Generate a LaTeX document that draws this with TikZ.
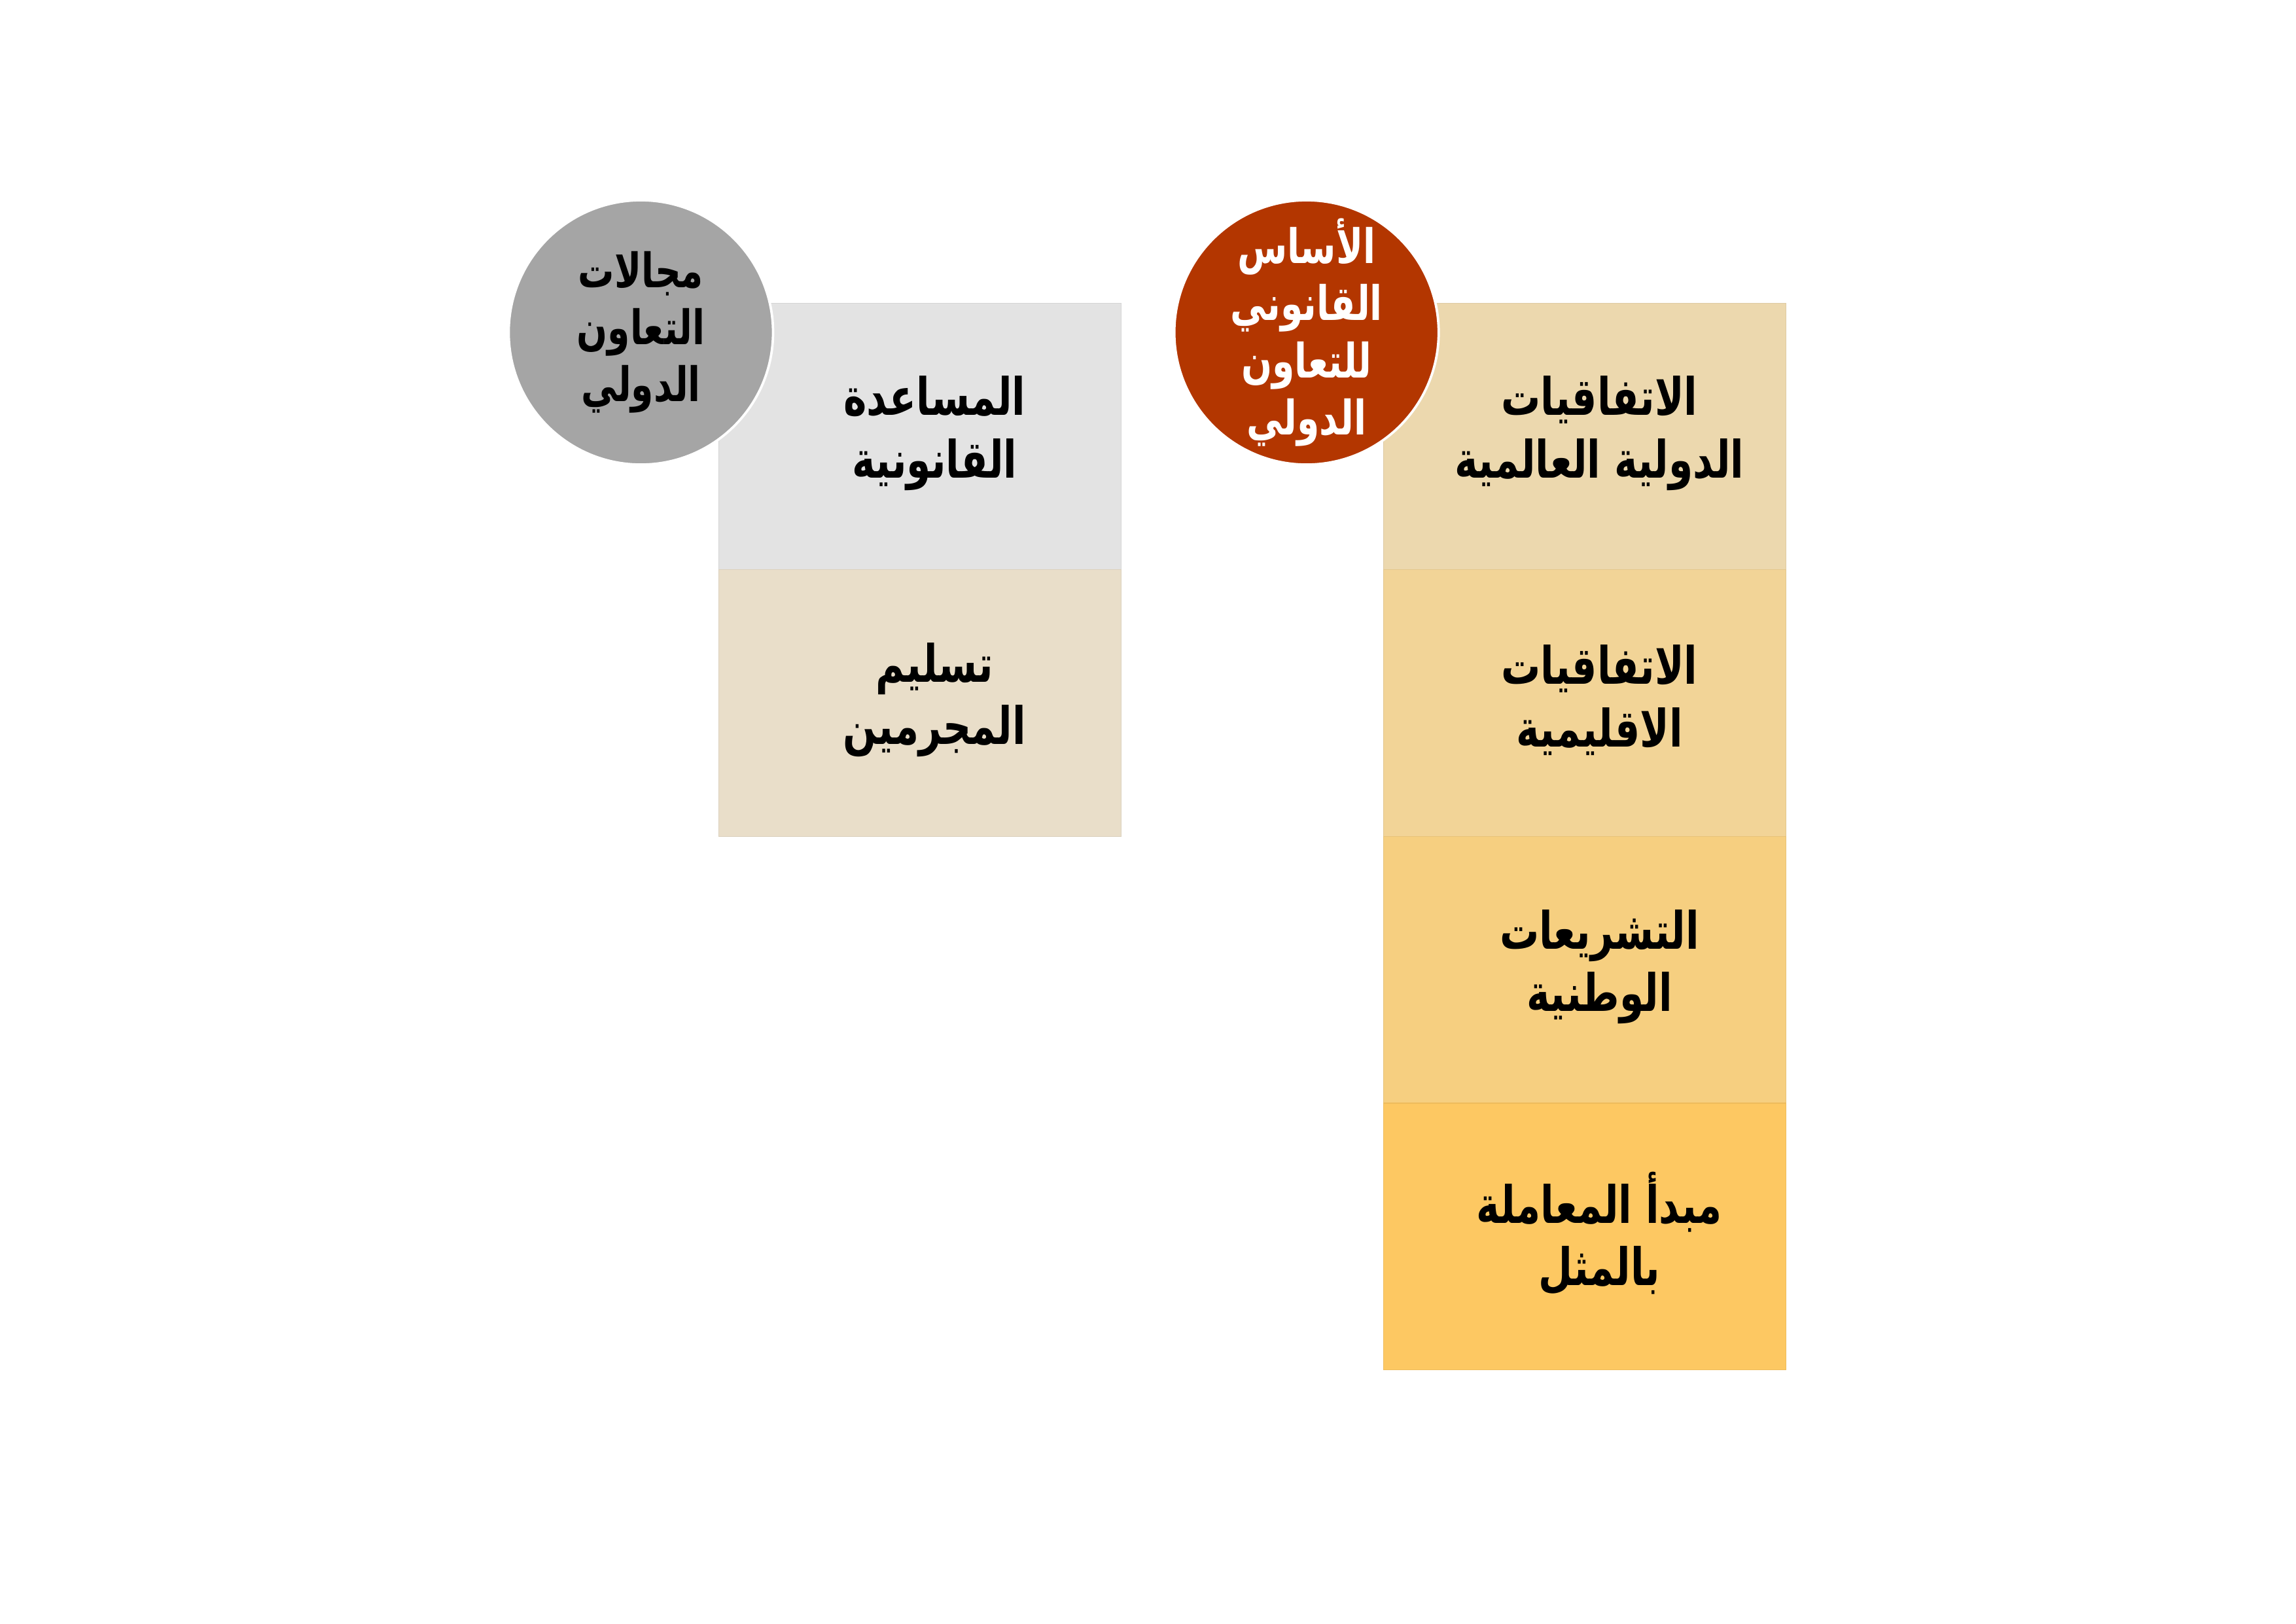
\documentclass[tikz,border=0pt]{standalone}
\usepackage{fontspec}
\usetikzlibrary{positioning}
\TeXXeTstate=1
\newfontfamily\arabicfont[Script=Arabic,FakeStretch=0.76]{DejaVu Sans}
\definecolor{boxgray}{HTML}{E3E3E3}
\definecolor{boxtan}{HTML}{E9DEC9}
\definecolor{boxA}{HTML}{ECD8AE}
\definecolor{boxB}{HTML}{F2D497}
\definecolor{boxC}{HTML}{F6CF80}
\definecolor{boxD}{HTML}{FDC862}
\definecolor{circgray}{HTML}{A5A5A5}
\definecolor{circred}{HTML}{B33600}
\tikzset{
  cell/.style={rectangle,fill=#1,draw=#1!94!black,line width=0.3pt,minimum width=5.2cm,minimum height=3.45cm,inner sep=0pt,outer sep=0pt},
  celltext/.style={align=center,font=\arabicfont\bfseries\fontsize{19}{23}\selectfont},
  badge/.style={circle,fill=#1,draw=white,line width=0.9pt,minimum size=3.42cm,inner sep=-0.6cm,align=center,font=\arabicfont\bfseries\fontsize{17.5}{21}\selectfont},
}
\begin{document}
\begin{tikzpicture}
    \useasboundingbox (0,0) rectangle (29.7,21);
    %% left column
    \node[cell=boxgray,anchor=north west] (L1) at (9.30,17.08) {};
    \node[cell=boxtan,below=0pt of L1] (L2) {};
    %% right column
    \node[cell=boxA,anchor=north west] (R1) at (17.90,17.08) {};
    \node[cell=boxB,below=0pt of R1] (R2) {};
    \node[cell=boxC,below=0pt of R2] (R3) {};
    \node[cell=boxD,below=0pt of R3] (R4) {};
    %% texts of the cells
    \node[celltext] (tL1) at ([xshift=1.9mm,yshift=0.4mm]L1.center) {\beginR المساعدة\endR\\\beginR القانونية\endR};
    \node[celltext] (tL2) at ([xshift=1.9mm,yshift=0.4mm]L2.center) {\beginR تسليم\endR\\\beginR المجرمين\endR};
    \node[celltext] (tR1) at ([xshift=1.9mm,yshift=0.4mm]R1.center) {\beginR الاتفاقيات\endR\\\beginR الدولية العالمية\endR};
    \node[celltext] (tR2) at ([xshift=1.9mm,yshift=0.4mm]R2.center) {\beginR الاتفاقيات\endR\\\beginR الاقليمية\endR};
    \node[celltext] (tR3) at ([xshift=1.9mm,yshift=0.4mm]R3.center) {\beginR التشريعات\endR\\\beginR الوطنية\endR};
    \node[celltext] (tR4) at ([xshift=1.9mm,yshift=0.4mm]R4.center) {\beginR مبدأ المعاملة\endR\\\beginR بالمثل\endR};
    %% circles
    \node[badge=circgray] (fields) at (8.29,16.70) {\beginR مجالات\endR\\\beginR التعاون\endR\\\beginR الدولي\endR};
    \node[badge=circred,text=white] (basis) at (16.90,16.70) {\beginR الأساس\endR\\\beginR القانوني\endR\\\beginR للتعاون\endR\\\beginR الدولي\endR};
\end{tikzpicture}
\end{document}
